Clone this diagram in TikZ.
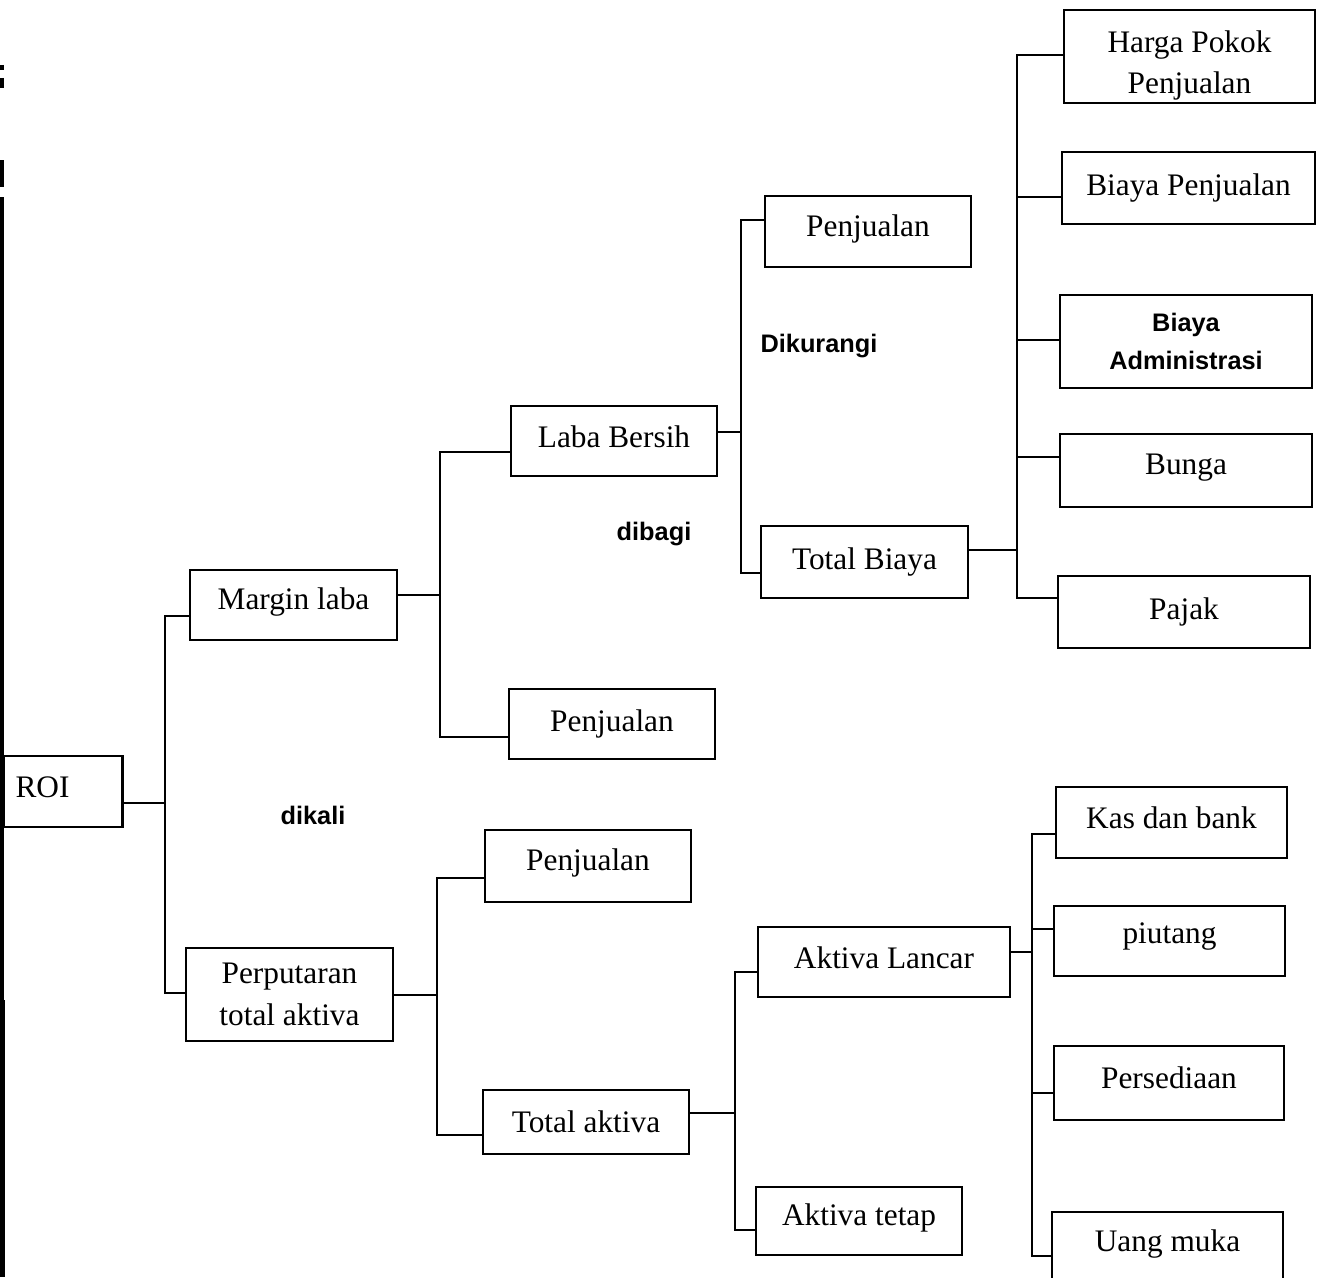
\documentclass[tikz,border=0pt]{standalone}
\usepackage{fontspec}
\setmainfont{Liberation Serif}
\newfontfamily\notefont{Liberation Sans}
% shift a label vertically without changing the box size the node sees
\newcommand{\liftlabel}[2]{\raisebox{#1}[\height][\depth]{#2}}
\begin{document}
\begin{tikzpicture}[x=0.75pt,y=-0.75pt,
  box/.style={draw, line width=2pt, inner sep=0pt, align=center,
    font=\fontsize{23.5}{31}\selectfont},
  sz/.style 2 args={minimum width={#1*0.75pt}, minimum height={#2*0.75pt}},
  link/.style={line width=1.7pt},
  note/.style={inner sep=0pt, font=\notefont\bfseries\fontsize{19}{28}\selectfont},
  edge/.style={line width=3pt}
]
\useasboundingbox (0,0) rectangle (1326,1277);

% dark rule along the left margin
\draw[edge] (1.5,65) -- (1.5,70);
\draw[edge] (1.5,78) -- (1.5,88);
\draw[edge] (1.5,160) -- (1.5,187);
\draw[edge] (1.5,197) -- (1.5,1277);
\draw[line width=4.5pt] (2,1000) -- (2,1277);

% ---- boxes ----
\node[box, sz={119}{71}, anchor=west, text width=71pt, align=left, inner xsep=9pt] (roi) at (2,791.5) {\liftlabel{3.5pt}{ROI}};

\node[box, sz={207}{70}] (ml)  at (293.5,605)  {\liftlabel{2pt}{Margin laba}};
\node[box, sz={207}{93}, font=\fontsize{23.5}{32}\selectfont] (pta) at (289.5,994.5) {Perputaran\\total aktiva};

\node[box, sz={206}{70}] (lb)  at (614,441)   {\liftlabel{3.5pt}{Laba Bersih}};
\node[box, sz={206}{70}] (pj2) at (612,724)   {Penjualan};

\node[box, sz={206}{71}] (pj1) at (868,231.5) {\liftlabel{2pt}{Penjualan}};
\node[box, sz={207}{72}] (tb)  at (864.5,562) {Total Biaya};

\node[box, sz={251}{93}] (hpp) at (1189.5,56.5)
  {\liftlabel{-6pt}{\begin{tabular}{@{}c@{}}Harga Pokok\\Penjualan\end{tabular}}};
\node[box, sz={253}{72}] (bp)  at (1188.5,188)  {Biaya Penjualan};
\node[box, sz={252}{93}, font=\notefont\bfseries\fontsize{19}{28}\selectfont] (ba) at (1186,341.5) {Biaya\\Administrasi};
\node[box, sz={252}{73}] (bg)  at (1186,470.5)  {\liftlabel{2pt}{Bunga}};
\node[box, sz={252}{72}] (paj) at (1184,612)    {Pajak};

\node[box, sz={206}{72}] (pj3) at (588,866)   {\liftlabel{2pt}{Penjualan}};
\node[box, sz={206}{64}] (ta)  at (586,1122)  {Total aktiva};

\node[box, sz={252}{70}] (al)  at (884,962)   {\liftlabel{3.5pt}{Aktiva Lancar}};
\node[box, sz={206}{68}] (at)  at (859,1221)  {\liftlabel{2pt}{Aktiva tetap}};

\node[box, sz={231}{71}] (kb)  at (1171.5,822.5) {\liftlabel{3.5pt}{Kas dan bank}};
\node[box, sz={231}{70}] (pi)  at (1169.5,941)   {\liftlabel{3.5pt}{piutang}};
\node[box, sz={230}{74}] (ps)  at (1169,1083)    {\liftlabel{4pt}{Persediaan}};
\node[box, sz={231}{74}] (um)  at (1167.5,1249)  {\liftlabel{4pt}{Uang muka}};

% ---- operation labels ----
\node[note] (kali)   at (313,815) {dikali};
\node[note] (bagi)   at (654,534) {dibagi};
\node[note] (kurang) at (819,346) {Dikurangi};

% ---- connectors ----
\draw[link] (roi.east |- 0,803) -- (165,803);
\draw[link] (ml.west |- 0,616) -- (165,616) -- (165,993) -- (pta.west |- 0,993);

\draw[link] (ml.east |- 0,595) -- (440,595);
\draw[link] (lb.west |- 0,452) -- (440,452) -- (440,737) -- (pj2.west |- 0,737);

\draw[link] (lb.east |- 0,432) -- (741,432);
\draw[link] (pj1.west |- 0,220) -- (741,220) -- (741,573) -- (tb.west |- 0,573);

\draw[link] (tb.east |- 0,550) -- (1017,550);
\draw[link] (hpp.west |- 0,55) -- (1017,55) -- (1017,598) -- (paj.west |- 0,598);
\draw[link] (1017,197) -- (bp.west |- 0,197);
\draw[link] (1017,340) -- (ba.west |- 0,340);
\draw[link] (1017,457) -- (bg.west |- 0,457);

\draw[link] (pta.east |- 0,995) -- (437,995);
\draw[link] (pj3.west |- 0,878) -- (437,878) -- (437,1135) -- (ta.west |- 0,1135);

\draw[link] (ta.east |- 0,1113) -- (735,1113);
\draw[link] (al.west |- 0,972) -- (735,972) -- (735,1230) -- (at.west |- 0,1230);

\draw[link] (al.east |- 0,952) -- (1032,952);
\draw[link] (kb.west |- 0,834) -- (1032,834) -- (1032,1256) -- (um.west |- 0,1256);
\draw[link] (1032,929) -- (pi.west |- 0,929);
\draw[link] (1032,1093) -- (ps.west |- 0,1093);
\end{tikzpicture}
\end{document}
